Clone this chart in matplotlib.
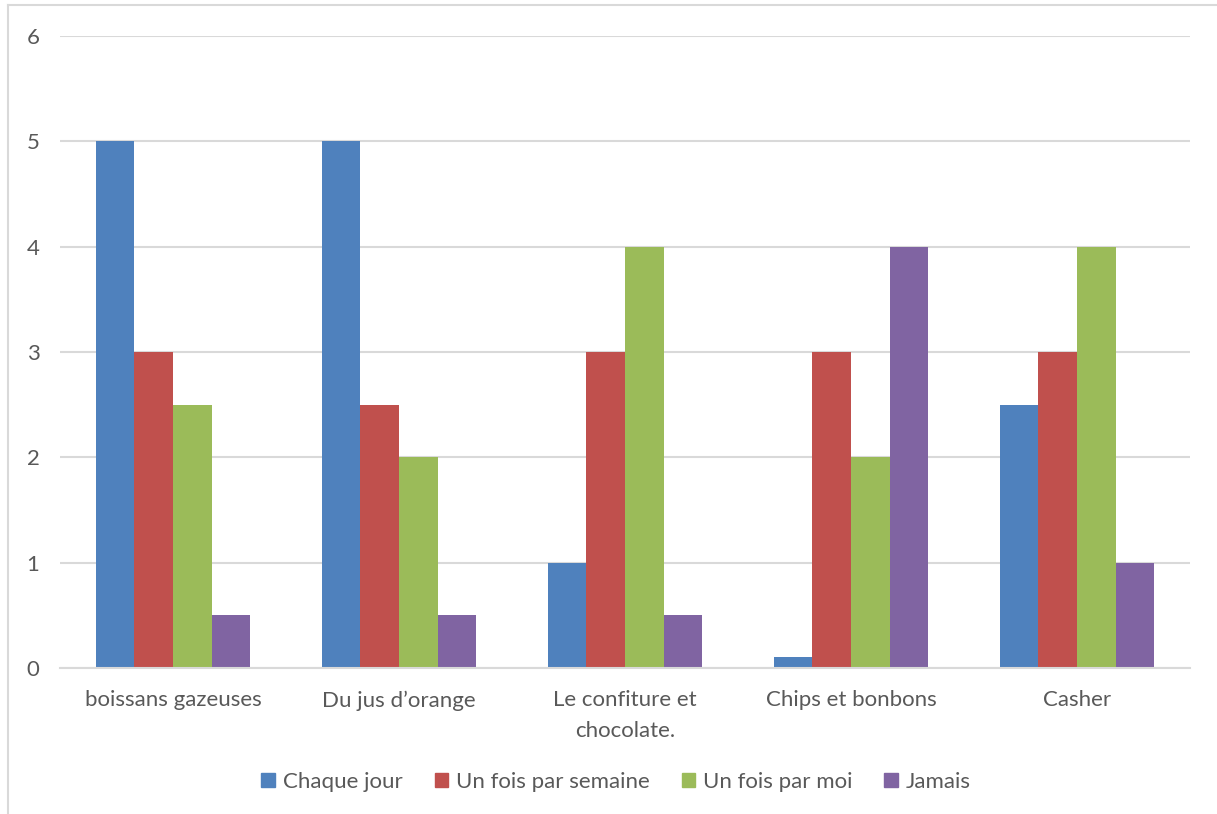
import numpy as np
import matplotlib.pyplot as plt
from matplotlib.lines import Line2D
from matplotlib.patches import Patch

categories = ['boissans gazeuses', 'Du jus d\u2019orange', 'Le confiture et\nchocolate.',
              'Chips et bonbons', 'Casher']
series_names = ['Chaque jour', 'Un fois par semaine', 'Un fois par moi', 'Jamais']
chaque_jour = [5, 5, 1, 0.1, 2.5]
semaine = [3, 2.5, 3, 3, 3]
mois = [2.5, 2, 4, 2, 4]
jamais = [0.5, 0.5, 0.5, 4, 1]
y_ticks = [0, 1, 2, 3, 4, 5, 6]

colors = ['#4F81BD', '#C0504D', '#9BBB59', '#8064A2']
text_color = '#595959'
grid_color = '#D9D9D9'

plt.rcParams['font.family'] = ['Lato', 'DejaVu Sans']

W, H = 1217, 814
fig = plt.figure(figsize=(W / 100, H / 100), dpi=100)
ax = fig.add_axes([60 / W, 1 - 668 / H, (1190 - 60) / W, (668 - 36) / H])

x = np.arange(len(categories))
width = 0.171
for i, (vals, name) in enumerate(zip([chaque_jour, semaine, mois, jamais], series_names)):
    ax.bar(x + (i - 1.5) * width, vals, width=width, color=colors[i],
           label=name, zorder=3)

ax.set_xlim(-0.5, len(categories) - 0.5)
ax.set_ylim(0, 6)
ax.set_yticks(y_ticks)
ax.set_yticklabels([str(t) for t in y_ticks])
ax.set_xticks(x)
ax.set_xticklabels(categories, linespacing=1.65)
ax.tick_params(axis='both', length=0, labelsize=16, colors=text_color)
ax.tick_params(axis='x', pad=16)
for lbl in ax.get_yticklabels():
    lbl.set_horizontalalignment('left')
ax.yaxis.set_tick_params(pad=24)

ax.grid(axis='y', color=grid_color, linewidth=1.5, zorder=0)
for side in ['top', 'right', 'left']:
    ax.spines[side].set_visible(False)
ax.spines['bottom'].set_color(grid_color)
ax.spines['bottom'].set_linewidth(1.5)
ax.spines['bottom'].set_zorder(4)

# outer chart frame (left and top edges)
fig.add_artist(Line2D([8 / W, 8 / W], [0, 1 - 5 / H], color=grid_color, lw=1.5,
                      transform=fig.transFigure))
fig.add_artist(Line2D([8 / W, 1], [1 - 5 / H, 1 - 5 / H], color=grid_color, lw=1.5,
                      transform=fig.transFigure))

handles = [Patch(color=c, label=n) for c, n in zip(colors, series_names)]
fig.legend(handles=handles, loc='center', bbox_to_anchor=(616 / W, 1 - 782 / H),
           ncol=4, frameon=False, fontsize=16, labelcolor=text_color,
           handlelength=0.6, handleheight=0.6, handletextpad=0.35,
           columnspacing=1.45)

fig.savefig('out.png', dpi=100)
